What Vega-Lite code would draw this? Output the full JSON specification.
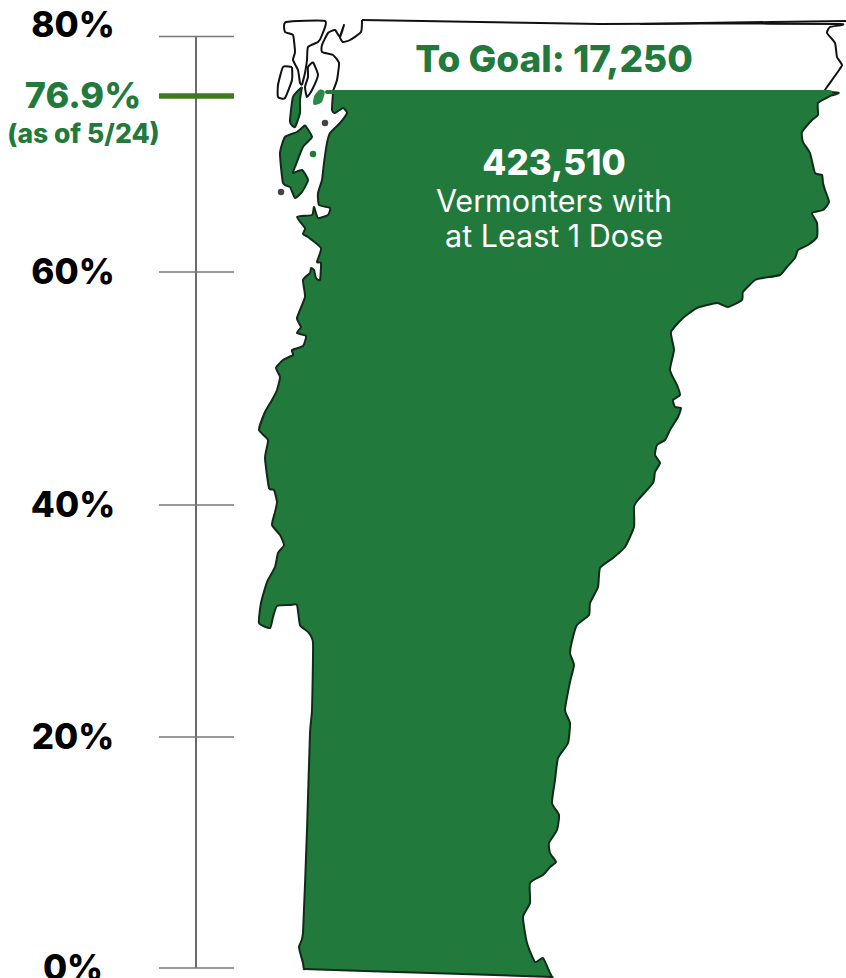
{
"$schema":"https://vega.github.io/schema/vega-lite/v6.json",
"width":846,"height":978,"padding":0,"autosize":{"type":"fit","contains":"padding"},"background":"white",
"config":{"view":{"stroke":null},"axis":{"domain":false}},
"datasets":{
"ticks":[{"pct":0,"label":"0%","x0":159,"x1":234},{"pct":20,"label":"20%","x0":159,"x1":234},{"pct":40,"label":"40%","x0":159,"x1":234},{"pct":60,"label":"60%","x0":159,"x1":234},{"pct":80,"label":"80%","x0":159,"x1":234}],
"current":[{"pct":76.9,"label":"76.9%","note":"(as of 5/24)","x0":159,"x1":234}],
"open":[
{"s":"top","i":0,"x":362,"y":20},{"s":"top","i":2,"x":480,"y":22},{"s":"top","i":3,"x":600,"y":24},{"s":"top","i":4,"x":700,"y":23.5},{"s":"top","i":5,"x":840,"y":24},{"s":"top","i":6,"x":830,"y":27},{"s":"top","i":7,"x":827,"y":33},{"s":"top","i":8,"x":835,"y":43},{"s":"top","i":9,"x":837,"y":57},{"s":"top","i":10,"x":842,"y":65},{"s":"top","i":11,"x":837,"y":73},{"s":"top","i":12,"x":827,"y":87},{"s":"top","i":13,"x":823,"y":93},
{"s":"edge","i":0,"x":846,"y":21},{"s":"edge","i":1,"x":700,"y":23},{"s":"edge","i":2,"x":640,"y":24},
{"s":"west","i":0,"x":362,"y":20},{"s":"west","i":1,"x":361,"y":32},{"s":"west","i":2,"x":350,"y":40},{"s":"west","i":3,"x":343,"y":42},{"s":"west","i":4,"x":340,"y":37},{"s":"west","i":5,"x":344,"y":25},{"s":"west","i":6,"x":340,"y":37},{"s":"west","i":7,"x":335,"y":30},{"s":"west","i":8,"x":328,"y":33},{"s":"west","i":9,"x":322,"y":45},{"s":"west","i":10,"x":322,"y":52},{"s":"west","i":11,"x":333,"y":55},{"s":"west","i":12,"x":339,"y":63},{"s":"west","i":13,"x":337,"y":80},{"s":"west","i":14,"x":333,"y":91},
{"s":"alburg","i":0,"x":302,"y":85},{"s":"alburg","i":1,"x":305,"y":73},{"s":"alburg","i":2,"x":307,"y":60},{"s":"alburg","i":3,"x":308,"y":47},{"s":"alburg","i":4,"x":318,"y":42},{"s":"alburg","i":5,"x":322,"y":35},{"s":"alburg","i":6,"x":325,"y":21},{"s":"alburg","i":7,"x":286,"y":22},{"s":"alburg","i":8,"x":285,"y":32},{"s":"alburg","i":9,"x":293,"y":35},{"s":"alburg","i":10,"x":295,"y":52},{"s":"alburg","i":11,"x":293,"y":60},{"s":"alburg","i":12,"x":298,"y":70},{"s":"alburg","i":13,"x":300,"y":83},{"s":"alburg","i":14,"x":302,"y":85},
{"s":"oval","i":0,"x":292,"y":67},{"s":"oval","i":1,"x":283,"y":67},{"s":"oval","i":2,"x":278,"y":85},{"s":"oval","i":3,"x":278,"y":97},{"s":"oval","i":4,"x":285,"y":98},{"s":"oval","i":5,"x":292,"y":80},{"s":"oval","i":6,"x":292,"y":67},
{"s":"pen","i":0,"x":313,"y":62},{"s":"pen","i":1,"x":318,"y":75},{"s":"pen","i":2,"x":312,"y":90},{"s":"pen","i":3,"x":307,"y":97},{"s":"pen","i":4,"x":305,"y":87},{"s":"pen","i":5,"x":308,"y":77},{"s":"pen","i":6,"x":308,"y":67},{"s":"pen","i":7,"x":313,"y":62}
],
"land":[
{"s":"main","i":0,"x":326,"y":92},{"s":"main","i":0.5,"x":580,"y":92},{"s":"main","i":1,"x":829,"y":92},{"s":"main","i":2,"x":830,"y":96},{"s":"main","i":3,"x":818,"y":103},{"s":"main","i":4,"x":818,"y":115},{"s":"main","i":5,"x":812,"y":120},{"s":"main","i":6,"x":802,"y":132},{"s":"main","i":7,"x":803,"y":142},{"s":"main","i":8,"x":810,"y":153},{"s":"main","i":9,"x":815,"y":173},{"s":"main","i":10,"x":822,"y":175},{"s":"main","i":11,"x":823,"y":183},{"s":"main","i":12,"x":825,"y":190},{"s":"main","i":13,"x":829,"y":202},{"s":"main","i":14,"x":823,"y":210},{"s":"main","i":15,"x":812,"y":213},{"s":"main","i":16,"x":817,"y":223},{"s":"main","i":17,"x":817,"y":237},{"s":"main","i":18,"x":808,"y":245},{"s":"main","i":19,"x":798,"y":250},{"s":"main","i":20,"x":795,"y":258},{"s":"main","i":21,"x":787,"y":267},{"s":"main","i":22,"x":780,"y":275},{"s":"main","i":23,"x":763,"y":278},{"s":"main","i":24,"x":755,"y":280},{"s":"main","i":25,"x":743,"y":292},{"s":"main","i":26,"x":742,"y":300},{"s":"main","i":27,"x":728,"y":307},{"s":"main","i":28,"x":717,"y":303},{"s":"main","i":29,"x":697,"y":308},{"s":"main","i":30,"x":683,"y":318},{"s":"main","i":31,"x":671,"y":332},{"s":"main","i":32,"x":674,"y":350},{"s":"main","i":33,"x":670,"y":370},{"s":"main","i":34,"x":677,"y":385},{"s":"main","i":35,"x":680,"y":395},{"s":"main","i":36,"x":673,"y":400},{"s":"main","i":37,"x":675,"y":407},{"s":"main","i":38,"x":681,"y":408},{"s":"main","i":39,"x":678,"y":417},{"s":"main","i":40,"x":670,"y":430},{"s":"main","i":41,"x":665,"y":440},{"s":"main","i":42,"x":657,"y":445},{"s":"main","i":43,"x":655,"y":455},{"s":"main","i":44,"x":660,"y":463},{"s":"main","i":45,"x":655,"y":472},{"s":"main","i":46,"x":653,"y":483},{"s":"main","i":47,"x":638,"y":500},{"s":"main","i":48,"x":634,"y":507},{"s":"main","i":49,"x":634,"y":527},{"s":"main","i":50,"x":625,"y":547},{"s":"main","i":51,"x":613,"y":558},{"s":"main","i":52,"x":600,"y":568},{"s":"main","i":53,"x":598,"y":587},{"s":"main","i":54,"x":590,"y":603},{"s":"main","i":55,"x":589,"y":615},{"s":"main","i":56,"x":577,"y":625},{"s":"main","i":57,"x":573,"y":637},{"s":"main","i":58,"x":570,"y":653},{"s":"main","i":59,"x":574,"y":665},{"s":"main","i":60,"x":570,"y":682},{"s":"main","i":61,"x":565,"y":710},{"s":"main","i":62,"x":570,"y":723},{"s":"main","i":63,"x":568,"y":743},{"s":"main","i":64,"x":558,"y":758},{"s":"main","i":65,"x":555,"y":780},{"s":"main","i":66,"x":552,"y":803},{"s":"main","i":67,"x":559,"y":815},{"s":"main","i":68,"x":557,"y":830},{"s":"main","i":69,"x":549,"y":843},{"s":"main","i":70,"x":550,"y":853},{"s":"main","i":71,"x":556,"y":862},{"s":"main","i":72,"x":550,"y":867},{"s":"main","i":73,"x":543,"y":875},{"s":"main","i":74,"x":530,"y":883},{"s":"main","i":75,"x":530,"y":903},{"s":"main","i":76,"x":523,"y":917},{"s":"main","i":77,"x":527,"y":943},{"s":"main","i":78,"x":535,"y":962},{"s":"main","i":79,"x":543,"y":958},{"s":"main","i":79.8,"x":550,"y":973},{"s":"main","i":80,"x":552,"y":977},{"s":"main","i":80.2,"x":546,"y":976.8},{"s":"main","i":80.5,"x":430,"y":973},{"s":"main","i":80.8,"x":311,"y":969.2},{"s":"main","i":81,"x":304,"y":969},{"s":"main","i":81.2,"x":303,"y":963},{"s":"main","i":82,"x":299,"y":947},{"s":"main","i":83,"x":303,"y":933},{"s":"main","i":83.5,"x":307,"y":830},{"s":"main","i":84,"x":310,"y":733},{"s":"main","i":85,"x":312,"y":710},{"s":"main","i":86,"x":313,"y":643},{"s":"main","i":87,"x":308,"y":632},{"s":"main","i":88,"x":300,"y":625},{"s":"main","i":89,"x":297,"y":605},{"s":"main","i":90,"x":290,"y":605},{"s":"main","i":91,"x":277,"y":606},{"s":"main","i":92,"x":273,"y":617},{"s":"main","i":93,"x":270,"y":628},{"s":"main","i":94,"x":259,"y":623},{"s":"main","i":95,"x":261,"y":603},{"s":"main","i":96,"x":267,"y":582},{"s":"main","i":97,"x":275,"y":567},{"s":"main","i":98,"x":278,"y":553},{"s":"main","i":99,"x":284,"y":545},{"s":"main","i":100,"x":280,"y":535},{"s":"main","i":101,"x":272,"y":525},{"s":"main","i":102,"x":275,"y":512},{"s":"main","i":103,"x":277,"y":502},{"s":"main","i":104,"x":274,"y":490},{"s":"main","i":105,"x":269,"y":488},{"s":"main","i":106,"x":265,"y":458},{"s":"main","i":107,"x":268,"y":440},{"s":"main","i":108,"x":259,"y":430},{"s":"main","i":109,"x":265,"y":412},{"s":"main","i":110,"x":272,"y":400},{"s":"main","i":111,"x":277,"y":390},{"s":"main","i":112,"x":280,"y":377},{"s":"main","i":113,"x":276,"y":368},{"s":"main","i":114,"x":283,"y":360},{"s":"main","i":115,"x":293,"y":355},{"s":"main","i":116,"x":292,"y":350},{"s":"main","i":117,"x":303,"y":346},{"s":"main","i":118,"x":306,"y":336},{"s":"main","i":119,"x":297,"y":333},{"s":"main","i":120,"x":301,"y":327},{"s":"main","i":121,"x":297,"y":318},{"s":"main","i":122,"x":305,"y":297},{"s":"main","i":123,"x":303,"y":280},{"s":"main","i":124,"x":310,"y":273},{"s":"main","i":125,"x":311,"y":268},{"s":"main","i":126,"x":314,"y":270},{"s":"main","i":127,"x":316,"y":278},{"s":"main","i":128,"x":320,"y":280},{"s":"main","i":129,"x":321,"y":263},{"s":"main","i":130,"x":317,"y":262},{"s":"main","i":131,"x":321,"y":248},{"s":"main","i":132,"x":308,"y":237},{"s":"main","i":133,"x":303,"y":234},{"s":"main","i":134,"x":305,"y":228},{"s":"main","i":135,"x":297,"y":217},{"s":"main","i":136,"x":312,"y":215},{"s":"main","i":137,"x":314,"y":207},{"s":"main","i":138,"x":318,"y":218},{"s":"main","i":139,"x":328,"y":215},{"s":"main","i":140,"x":330,"y":208},{"s":"main","i":141,"x":319,"y":205},{"s":"main","i":142,"x":318,"y":193},{"s":"main","i":143,"x":322,"y":180},{"s":"main","i":144,"x":324,"y":163},{"s":"main","i":145,"x":327,"y":143},{"s":"main","i":146,"x":330,"y":133},{"s":"main","i":147,"x":340,"y":123},{"s":"main","i":148,"x":347,"y":113},{"s":"main","i":149,"x":343,"y":108},{"s":"main","i":150,"x":335,"y":113},{"s":"main","i":151,"x":332,"y":110},{"s":"main","i":152,"x":333,"y":93},
{"s":"north","i":0,"x":302,"y":87},{"s":"north","i":1,"x":300,"y":100},{"s":"north","i":2,"x":300,"y":113},{"s":"north","i":3,"x":295,"y":127},{"s":"north","i":4,"x":290,"y":122},{"s":"north","i":5,"x":293,"y":97},{"s":"north","i":6,"x":302,"y":87},
{"s":"grand","i":0,"x":305,"y":125},{"s":"grand","i":1,"x":312,"y":137},{"s":"grand","i":2,"x":303,"y":147},{"s":"grand","i":3,"x":295,"y":167},{"s":"grand","i":4,"x":293,"y":173},{"s":"grand","i":5,"x":302,"y":170},{"s":"grand","i":6,"x":308,"y":180},{"s":"grand","i":7,"x":302,"y":192},{"s":"grand","i":8,"x":295,"y":198},{"s":"grand","i":9,"x":290,"y":187},{"s":"grand","i":10,"x":283,"y":183},{"s":"grand","i":11,"x":280,"y":153},{"s":"grand","i":12,"x":285,"y":137},{"s":"grand","i":13,"x":297,"y":132},{"s":"grand","i":14,"x":305,"y":125}
],
"blob":[{"s":"c","i":0,"x":320,"y":90},{"s":"c","i":1,"x":324,"y":92},{"s":"c","i":2,"x":321,"y":102},{"s":"c","i":3,"x":314,"y":104},{"s":"c","i":4,"x":315,"y":96},{"s":"c","i":5,"x":320,"y":90}],
"waterline":[{"x0":327,"x1":830,"y":92}],
"dots":[{"x":313,"y":154,"kind":"green"},{"x":325,"y":123,"kind":"dark"},{"x":281,"y":192,"kind":"dark"}],
"notes":[{"x":554,"y":60,"t":"To Goal: 17,250"}],
"count":[{"x":554,"y":162,"t":"423,510"}],
"desc":[{"x":554,"y":202,"t":"Vermonters with"},{"x":554,"y":237,"t":"at Least 1 Dose"}]
},
"layer":[
{"data":{"name":"open"},"mark":{"type":"line","stroke":"#111","strokeWidth":2,"strokeJoin":"round","interpolate":"cardinal","tension":0.5},
"encoding":{"x":{"field":"x","type":"quantitative","scale":{"domain":[0,846],"range":[0,846]},"axis":null},"y":{"field":"y","type":"quantitative","scale":{"domain":[0,978],"range":[0,978]},"axis":null},"detail":{"field":"s"},"order":{"field":"i"}}},
{"data":{"name":"land"},"mark":{"type":"line","fill":"#217a3c","stroke":"#122a1a","strokeWidth":2,"strokeJoin":"round","interpolate":"cardinal","tension":0.5},
"encoding":{"x":{"field":"x","type":"quantitative","scale":{"domain":[0,846],"range":[0,846]},"axis":null},"y":{"field":"y","type":"quantitative","scale":{"domain":[0,978],"range":[0,978]},"axis":null},"detail":{"field":"s"},"order":{"field":"i"}}},
{"data":{"name":"blob"},"mark":{"type":"line","fill":"#2b8a4a","stroke":"#2b8a4a","strokeWidth":1.5,"interpolate":"cardinal","tension":0.3},
"encoding":{"x":{"field":"x","type":"quantitative","scale":{"domain":[0,846],"range":[0,846]},"axis":null},"y":{"field":"y","type":"quantitative","scale":{"domain":[0,978],"range":[0,978]},"axis":null},"detail":{"field":"s"},"order":{"field":"i"}}},
{"data":{"name":"waterline"},"mark":{"type":"rule","stroke":"#217a3c","strokeWidth":4,"strokeCap":"round"},
"encoding":{"x":{"field":"x0","type":"quantitative","scale":{"domain":[0,846],"range":[0,846]},"axis":null},"x2":{"field":"x1"},"y":{"field":"y","type":"quantitative","scale":{"domain":[0,978],"range":[0,978]},"axis":null}}},
{"data":{"name":"dots"},"mark":{"type":"point","filled":true,"opacity":1,"size":42},
"encoding":{"x":{"field":"x","type":"quantitative","scale":{"domain":[0,846],"range":[0,846]},"axis":null},"y":{"field":"y","type":"quantitative","scale":{"domain":[0,978],"range":[0,978]},"axis":null},"color":{"field":"kind","type":"nominal","scale":{"domain":["green","dark"],"range":["#217a3c","#444"]},"legend":null}}},
{"data":{"name":"notes"},"mark":{"type":"text","font":"Inter","fontWeight":800,"fontSize":37,"fill":"#217a3c","align":"center","baseline":"middle","dy":1},
"encoding":{"x":{"field":"x","type":"quantitative","scale":{"domain":[0,846],"range":[0,846]},"axis":null},"y":{"field":"y","type":"quantitative","scale":{"domain":[0,978],"range":[0,978]},"axis":null},"text":{"field":"t"}}},
{"data":{"name":"count"},"mark":{"type":"text","font":"Inter","fontWeight":800,"fontSize":35,"fill":"white","align":"center","baseline":"middle","dy":2},
"encoding":{"x":{"field":"x","type":"quantitative","scale":{"domain":[0,846],"range":[0,846]},"axis":null},"y":{"field":"y","type":"quantitative","scale":{"domain":[0,978],"range":[0,978]},"axis":null},"text":{"field":"t"}}},
{"data":{"name":"desc"},"mark":{"type":"text","font":"Inter","fontWeight":400,"fontSize":30.5,"fill":"white","align":"center","baseline":"middle","dy":1},
"encoding":{"x":{"field":"x","type":"quantitative","scale":{"domain":[0,846],"range":[0,846]},"axis":null},"y":{"field":"y","type":"quantitative","scale":{"domain":[0,978],"range":[0,978]},"axis":null},"text":{"field":"t"}}},
{"data":{"name":"ticks"},"mark":{"type":"rule","stroke":"#6b6b6b","strokeWidth":2},
"encoding":{"x":{"datum":196,"type":"quantitative","scale":{"domain":[0,846],"range":[0,846]},"axis":null},"y":{"aggregate":"min","field":"pct","type":"quantitative","scale":{"domain":[0,20,40,60,76.9,80],"range":[968,737,505,272,96,36.5]},"axis":null},"y2":{"aggregate":"max","field":"pct"}}},
{"data":{"name":"ticks"},"mark":{"type":"rule","stroke":"#777","strokeWidth":1.5},
"encoding":{"x":{"field":"x0","type":"quantitative","scale":{"domain":[0,846],"range":[0,846]},"axis":null},"x2":{"field":"x1"},"y":{"field":"pct","type":"quantitative","scale":{"domain":[0,20,40,60,76.9,80],"range":[968,737,505,272,96,36.5]},"axis":null}}},
{"data":{"name":"current"},"mark":{"type":"rule","stroke":"#3f7a1e","strokeWidth":5.5},
"encoding":{"x":{"field":"x0","type":"quantitative","scale":{"domain":[0,846],"range":[0,846]},"axis":null},"x2":{"field":"x1"},"y":{"field":"pct","type":"quantitative","scale":{"domain":[0,20,40,60,76.9,80],"range":[968,737,505,272,96,36.5]},"axis":null}}},
{"data":{"name":"ticks"},"transform":[{"filter":"datum.pct<80"}],"mark":{"type":"text","font":"Inter","fontWeight":800,"fontSize":35,"fill":"#000","align":"center","baseline":"middle","dy":1},
"encoding":{"x":{"datum":73,"type":"quantitative","scale":{"domain":[0,846],"range":[0,846]},"axis":null},"y":{"field":"pct","type":"quantitative","scale":{"domain":[0,20,40,60,76.9,80],"range":[968,737,505,272,96,36.5]},"axis":null},"text":{"field":"label"}}},
{"data":{"name":"ticks"},"transform":[{"filter":"datum.pct==80"}],"mark":{"type":"text","font":"Inter","fontWeight":800,"fontSize":35,"fill":"#000","align":"center","baseline":"middle","dy":-11},
"encoding":{"x":{"datum":73,"type":"quantitative","scale":{"domain":[0,846],"range":[0,846]},"axis":null},"y":{"field":"pct","type":"quantitative","scale":{"domain":[0,20,40,60,76.9,80],"range":[968,737,505,272,96,36.5]},"axis":null},"text":{"field":"label"}}},
{"data":{"name":"current"},"mark":{"type":"text","font":"Inter","fontWeight":800,"fontSize":36,"fill":"#217a3c","align":"center","baseline":"middle","dy":1},
"encoding":{"x":{"datum":83,"type":"quantitative","scale":{"domain":[0,846],"range":[0,846]},"axis":null},"y":{"field":"pct","type":"quantitative","scale":{"domain":[0,20,40,60,76.9,80],"range":[968,737,505,272,96,36.5]},"axis":null},"text":{"field":"label"}}},
{"data":{"name":"current"},"mark":{"type":"text","font":"Inter","fontWeight":800,"fontSize":26.5,"fill":"#217a3c","align":"center","baseline":"middle","dy":39},
"encoding":{"x":{"datum":83.5,"type":"quantitative","scale":{"domain":[0,846],"range":[0,846]},"axis":null},"y":{"field":"pct","type":"quantitative","scale":{"domain":[0,20,40,60,76.9,80],"range":[968,737,505,272,96,36.5]},"axis":null},"text":{"field":"note"}}}
],
"resolve":{"scale":{"y":"independent"}}
}
